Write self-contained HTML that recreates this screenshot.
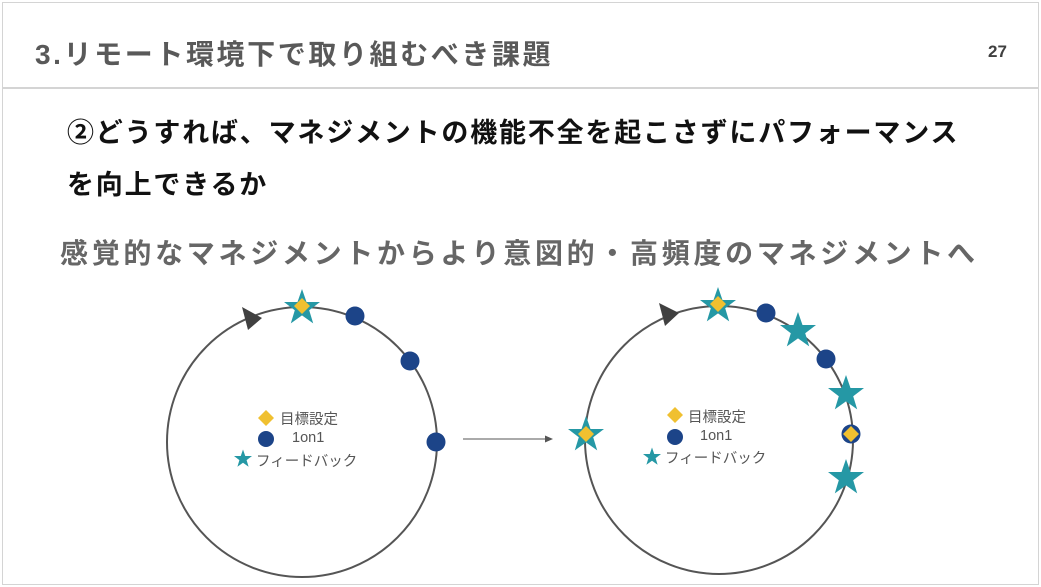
<!DOCTYPE html>
<html><head><meta charset="utf-8"><style>
html,body{margin:0;padding:0;background:#fff;width:1041px;height:587px;overflow:hidden}
.f{position:absolute;left:2px;top:2px;width:1035px;height:581px;border:1px solid #d4d4d4}
.t{position:absolute;white-space:nowrap;font-family:"Liberation Sans","Noto Sans CJK JP",sans-serif}
</style></head><body>
<div class="f"></div>
<div style="position:absolute;left:2px;top:87px;width:1037px;height:2px;background:#d4d4d4"></div>
<div class="t" style="left:35px;top:33px;font-size:28px;font-weight:bold;color:#595959;letter-spacing:2.6px">3.リモート環境下で取り組むべき課題</div>
<div class="t" style="left:988px;top:42px;font-size:17px;font-weight:bold;color:#404040">27</div>
<div class="t" style="left:67px;top:111px;font-size:27px;font-weight:bold;color:#111;letter-spacing:1.8px">②どうすれば、マネジメントの機能不全を起こさずにパフォーマンス</div>
<div class="t" style="left:67px;top:163px;font-size:27px;font-weight:bold;color:#111;letter-spacing:1.8px">を向上できるか</div>
<div class="t" style="left:60px;top:232px;font-size:28px;font-weight:bold;color:#666;letter-spacing:3.7px">感覚的なマネジメントからより意図的・高頻度のマネジメントへ</div>
<svg style="position:absolute;left:0;top:0" width="1041" height="587">
<defs>
<polygon id="st" points="0,-19 4.5,-6 18,-6 7.2,2.3 11.2,15.4 0,7.4 -11.2,15.4 -7.2,2.3 -18,-6 -4.5,-6" fill="#2598a5"/>
<polygon id="dm" points="0,-8 8,0 0,8 -8,0" fill="#f0c030"/>
</defs>
<circle cx="302" cy="442" r="135" fill="none" stroke="#555" stroke-width="2"/>
<circle cx="719" cy="440" r="134" fill="none" stroke="#555" stroke-width="2"/>
<polygon points="242,307 262,318 248,330" fill="#404040"/>
<polygon points="659,303 679,313 665,326" fill="#404040"/>
<line x1="463" y1="439" x2="548" y2="439" stroke="#555" stroke-width="1"/>
<polygon points="553,439 545,435.5 545,442.5" fill="#555"/>
<use href="#st" x="302" y="308"/><use href="#dm" x="302" y="306"/>
<circle cx="355" cy="316" r="9.5" fill="#1c4488"/>
<circle cx="410" cy="361" r="9.5" fill="#1c4488"/>
<circle cx="436" cy="442" r="9.5" fill="#1c4488"/>
<use href="#dm" x="266" y="418"/>
<circle cx="266" cy="439" r="8" fill="#1c4488"/>
<use href="#st" transform="translate(243,459) scale(0.5)"/>
<use href="#st" x="718" y="306"/><use href="#dm" x="718" y="304"/>
<circle cx="766" cy="313" r="9.5" fill="#1c4488"/>
<use href="#st" x="798" y="331"/>
<circle cx="826" cy="359" r="9.5" fill="#1c4488"/>
<use href="#st" x="846" y="394"/>
<circle cx="851" cy="434" r="9.5" fill="#1c4488"/><use href="#dm" x="851" y="434"/>
<use href="#st" x="846" y="478"/>
<use href="#st" x="586" y="435"/><use href="#dm" x="586" y="434"/>
<use href="#dm" x="675" y="415"/>
<circle cx="675" cy="437" r="8" fill="#1c4488"/>
<use href="#st" transform="translate(652,457) scale(0.5)"/>
</svg>
<div class="t" style="left:280px;top:408px;font-size:14.5px;color:#555">目標設定</div>
<div class="t" style="left:292px;top:430px;font-size:14.5px;color:#555">1on1</div>
<div class="t" style="left:256px;top:450px;font-size:14.5px;color:#555">フィードバック</div>
<div class="t" style="left:688px;top:406px;font-size:14.5px;color:#555">目標設定</div>
<div class="t" style="left:700px;top:428px;font-size:14.5px;color:#555">1on1</div>
<div class="t" style="left:665px;top:447px;font-size:14.5px;color:#555">フィードバック</div>
</body></html>
